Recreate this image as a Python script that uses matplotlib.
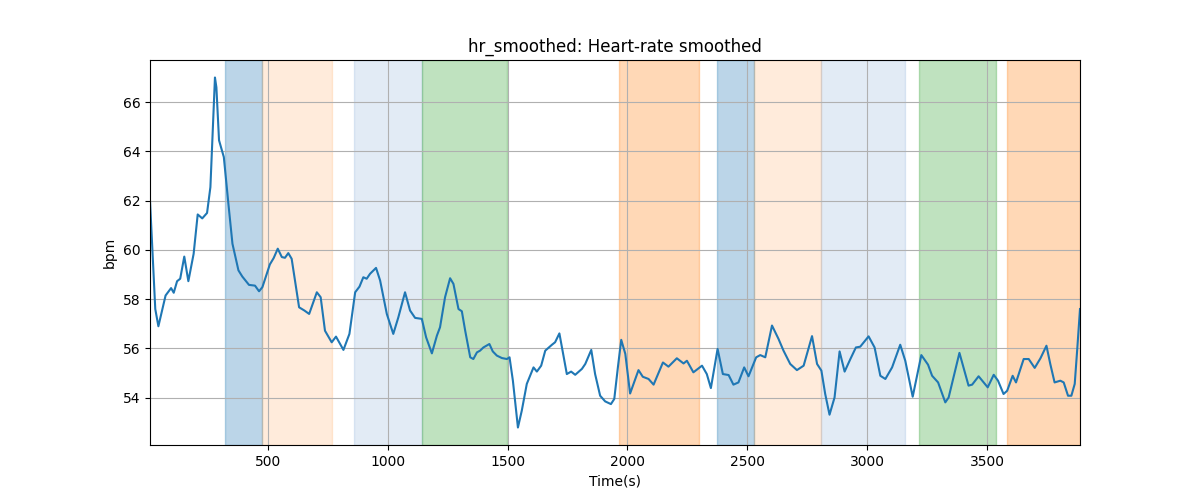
import matplotlib
matplotlib.use("Agg")
from matplotlib import pyplot as plt

# smoothed heart rate (time in s, bpm)
time_s = [8, 20, 30, 43, 73, 96, 107, 121, 134, 151, 168, 190, 207, 226, 246, 260,
          279, 285, 296, 316, 335, 352, 377, 393, 421, 446, 463, 477, 508, 524, 541,
          558, 571, 585, 599, 630, 652, 672, 704, 720, 738, 766, 784, 815, 840, 864,
          882, 898, 912, 926, 951, 968, 996, 1023, 1044, 1072, 1093, 1114, 1142, 1160,
          1184, 1205, 1218, 1239, 1260, 1274, 1295, 1309, 1323, 1344, 1357, 1372, 1385,
          1399, 1424, 1438, 1455, 1476, 1497, 1508, 1522, 1543, 1559, 1580, 1608, 1622,
          1640, 1657, 1685, 1698, 1716, 1729, 1747, 1765, 1782, 1810, 1824, 1849, 1865,
          1886, 1907, 1931, 1945, 1960, 1974, 1991, 2011, 2046, 2064, 2088, 2109, 2148,
          2171, 2206, 2234, 2248, 2275, 2311, 2331, 2348, 2376, 2398, 2422, 2442, 2463,
          2487, 2505, 2537, 2554, 2575, 2603, 2630, 2651, 2679, 2707, 2735, 2770, 2791,
          2809, 2825, 2843, 2864, 2885, 2906, 2930, 2953, 2971, 3006, 3031, 3055, 3076,
          3104, 3138, 3159, 3190, 3226, 3254, 3271, 3296, 3326, 3340, 3385, 3423, 3438,
          3465, 3503, 3528, 3546, 3569, 3584, 3607, 3621, 3653, 3674, 3699, 3723, 3748,
          3764, 3782, 3806, 3820, 3838, 3852, 3866, 3877, 3888]
hr_smoothed = [62.0, 59.6, 57.6, 56.9, 58.15, 58.45, 58.26, 58.73, 58.83, 59.73, 58.73,
               59.84, 61.44, 61.28, 61.5, 62.55, 67.0, 66.6, 64.45, 63.77, 61.88, 60.25,
               59.17, 58.92, 58.58, 58.55, 58.32, 58.49, 59.41, 59.67, 60.05, 59.71, 59.68,
               59.87, 59.64, 57.67, 57.54, 57.4, 58.28, 58.08, 56.72, 56.25, 56.48, 55.94,
               56.59, 58.28, 58.51, 58.89, 58.83, 59.03, 59.27, 58.76, 57.4, 56.59, 57.26,
               58.28, 57.54, 57.24, 57.2, 56.45, 55.8, 56.52, 56.86, 58.08, 58.85, 58.62,
               57.6, 57.51, 56.72, 55.64, 55.57, 55.84, 55.91, 56.04, 56.18, 55.88, 55.71,
               55.61, 55.57, 55.64, 54.69, 52.79, 53.47, 54.56, 55.23, 55.06, 55.3, 55.91,
               56.15, 56.25, 56.61, 55.91, 54.96, 55.06, 54.93, 55.17, 55.37, 55.94, 54.96,
               54.08, 53.85, 53.74, 53.95, 55.23, 56.35, 55.78, 54.17, 55.12, 54.85, 54.76,
               54.53, 55.43, 55.26, 55.6, 55.39, 55.5, 55.03, 55.3, 54.96, 54.39, 55.98,
               54.96, 54.92, 54.53, 54.62, 55.23, 54.87, 55.64, 55.73, 55.64, 56.93, 56.39,
               55.91, 55.37, 55.12, 55.3, 56.5, 55.37, 55.1, 54.15, 53.31, 54.01, 55.88,
               55.06, 55.57, 56.04, 56.07, 56.49, 56.04, 54.89, 54.76, 55.23, 56.15, 55.5,
               54.04, 55.73, 55.34, 54.89, 54.62, 53.81, 54.01, 55.82, 54.49, 54.53, 54.87,
               54.42, 54.93, 54.69, 54.15, 54.28, 54.89, 54.62, 55.57, 55.57, 55.21, 55.6,
               56.11, 55.37, 54.62, 54.69, 54.62, 54.08, 54.08, 54.56, 56.04, 57.6]

# shaded phases: start, end, colour, alpha
span_start = [321, 474, 859, 1142, 1965, 2374, 2529, 2807, 3218, 3584]
span_end = [474, 766, 1142, 1497, 2300, 2529, 2807, 3159, 3537, 3886]
span_color = ["tab:blue", "tab:orange", "#1660b4", "tab:green", "tab:orange",
              "tab:blue", "tab:orange", "#1660b4", "tab:green", "tab:orange"]
span_alpha = [0.3, 0.15, 0.12, 0.3, 0.3, 0.3, 0.15, 0.12, 0.3, 0.3]

fig, ax = plt.subplots(figsize=(12, 5))

for s, e, c, a in zip(span_start, span_end, span_color, span_alpha):
    ax.axvspan(s, e, color=c, alpha=a)

ax.plot(time_s, hr_smoothed, color="tab:blue", solid_joinstyle="round")

ax.set_xlim(time_s[0], time_s[-1])
ax.set_title("hr_smoothed: Heart-rate smoothed")
ax.set_xlabel("Time(s)")
ax.set_ylabel("bpm")
ax.grid(True)

fig.savefig("out.png", dpi=100)
